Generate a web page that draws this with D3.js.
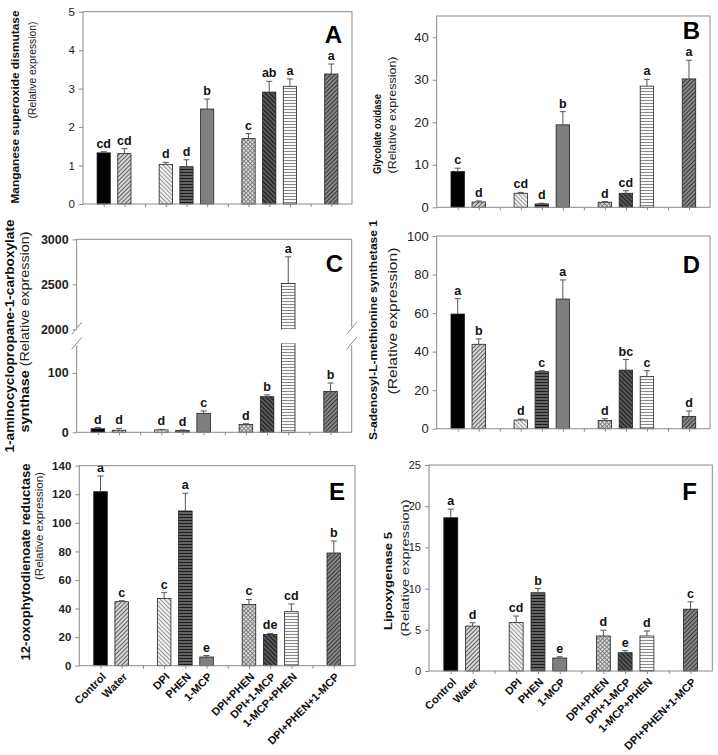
<!DOCTYPE html>
<html><head><meta charset="utf-8">
<script src="https://cdn.jsdelivr.net/npm/d3@7"></script>
<style>
body{margin:0;background:#fff}
svg{display:block}
text{font-family:"Liberation Sans",Arial,Helvetica,sans-serif}
</style>
</head><body>
<svg id="chart" width="718" height="755"></svg>
<script>
// ---------------- DATA ----------------
const categories = ["Control","Water","DPI","PHEN","1-MCP","DPI+PHEN","DPI+1-MCP","1-MCP+PHEN","DPI+PHEN+1-MCP"];
const groups = [["Control","Water"],["DPI","PHEN","1-MCP"],["DPI+PHEN","DPI+1-MCP","1-MCP+PHEN"],["DPI+PHEN+1-MCP"]];

// A: Manganese superoxide dismutase
const mnsodMean    = [1.33, 1.31, 1.03, 0.97, 2.47, 1.70, 2.91, 3.06, 3.38];
const mnsodSE      = [0.03, 0.13, 0.05, 0.18, 0.26, 0.13, 0.28, 0.19, 0.26];
const mnsodLetters = ["cd","cd","d","d","b","c","ab","a","a"];
const mnsodTicks   = [0,1,2,3,4,5];

// B: Glycolate oxidase
const goxMean    = [8.4, 1.25, 3.3, 0.8, 19.4, 1.2, 3.3, 28.5, 30.2];
const goxSE      = [0.8, 0.25, 0.2, 0.15, 3.1, 0.15, 0.6, 1.6, 4.4];
const goxLetters = ["c","d","cd","d","b","d","cd","a","a"];
const goxTicks   = [0,10,20,30,40];

// C: 1-aminocyclopropane-1-carboxylate synthase (broken axis)
const acsMean    = [6, 3.5, 4, 3, 32, 13, 60, 2510, 69];
const acsSE      = [2, 3, 1, 1, 4, 1.5, 3, 295, 14];
const acsLetters = ["d","d","d","d","c","d","b","a","b"];
const acsTicks   = [0,100,2000,2500,3000];

// D: S-adenosyl-L-methionine synthetase 1
const samsMean    = [59.5, 43.8, 4.5, 29.6, 67.3, 4.3, 30.4, 27.0, 6.4];
const samsSE      = [8.0, 2.8, 0.5, 0.5, 9.9, 0.9, 5.5, 3.1, 2.8];
const samsLetters = ["a","b","d","c","a","d","bc","c","d"];
const samsTicks   = [0,20,40,60,80,100];

// E: 12-oxophytodienoate reductase
const oprMean    = [121.8, 44.8, 47.1, 108.3, 6.1, 42.9, 21.9, 37.8, 78.9];
const oprSE      = [11.0, 0.7, 4.0, 12.4, 1.0, 3.5, 0.7, 5.4, 8.4];
const oprLetters = ["a","c","c","a","e","c","de","cd","b"];
const oprTicks   = [0,20,40,60,80,100,120,140];

// F: Lipoxygenase 5
const loxMean    = [18.6, 5.45, 5.87, 9.5, 1.58, 4.25, 2.22, 4.25, 7.5];
const loxSE      = [1.05, 0.4, 0.8, 0.5, 0.15, 0.7, 0.25, 0.6, 0.9];
const loxLetters = ["a","d","cd","b","e","d","e","d","c"];
const loxTicks   = [0,5,10,15,20,25];

// ---------------- SETUP ----------------
const svg = d3.select("#chart");
const defs = svg.append("defs");

function linePattern(id, bg, fg, period, sw, angle) {
  const p = defs.append("pattern").attr("id", id)
    .attr("patternUnits", "userSpaceOnUse")
    .attr("width", period).attr("height", period)
    .attr("patternTransform", `rotate(${angle})`);
  p.append("rect").attr("width", period).attr("height", period).attr("fill", bg);
  p.append("line").attr("x1", 0).attr("x2", period).attr("y1", period/2).attr("y2", period/2)
    .attr("stroke", fg).attr("stroke-width", sw);
}
function crossPattern(id, bg, fg, period, sw, angle) {
  const p = defs.append("pattern").attr("id", id)
    .attr("patternUnits", "userSpaceOnUse")
    .attr("width", period).attr("height", period)
    .attr("patternTransform", `rotate(${angle})`);
  p.append("rect").attr("width", period).attr("height", period).attr("fill", bg);
  p.append("line").attr("x1", 0).attr("x2", period).attr("y1", period/2).attr("y2", period/2)
    .attr("stroke", fg).attr("stroke-width", sw);
  p.append("line").attr("y1", 0).attr("y2", period).attr("x1", period/2).attr("x2", period/2)
    .attr("stroke", fg).attr("stroke-width", sw);
}
linePattern("pWater", "#d4d4d4", "#666", 3, 1, -45);
linePattern("pDPI", "#efefef", "#999", 3, 1, 45);
linePattern("pPHEN", "#808080", "#1c1c1c", 3, 1.6, 0);
crossPattern("pDP", "#dcdcdc", "#7a7a7a", 3, 0.9, 45);
linePattern("pDM", "#2c2c2c", "#808080", 3.2, 0.9, 45);
linePattern("pMP", "#ffffff", "#8a8a8a", 3, 1.1, 0);
linePattern("pAll", "#8e8e8e", "#3a3a3a", 3, 1.2, -45);

const fills = {
  "Control": "#000",
  "Water": "url(#pWater)",
  "DPI": "url(#pDPI)",
  "PHEN": "url(#pPHEN)",
  "1-MCP": "#7f7f7f",
  "DPI+PHEN": "url(#pDP)",
  "DPI+1-MCP": "url(#pDM)",
  "1-MCP+PHEN": "url(#pMP)",
  "DPI+PHEN+1-MCP": "url(#pAll)"
};

// slot domain with spacer slots between groups
const slotDomain = [];
groups.forEach((g, i) => { if (i > 0) slotDomain.push("__gap" + i); g.forEach(c => slotDomain.push(c)); });

const frameColor = "#8a8a8a";

const panels = [
  { letter:"A", mean:mnsodMean, se:mnsodSE, letters:mnsodLetters, ticks:mnsodTicks, domain:[0,5],
    box:{l:83,r:352,t:11.7,b:204}, tickSize:11.5, tickBold:false,
    t1:{text:"Manganese superoxide dismutase", x:15, y:107, size:11.5, len:193},
    t2:{text:"(Relative expression)", x:32, y:70, size:10.5, len:97},
    lp:{x:342,y:43}, xlabels:false },
  { letter:"B", mean:goxMean, se:goxSE, letters:goxLetters, ticks:goxTicks, domain:[0,45],
    box:{l:436.7,r:710,t:16,b:207.3}, tickSize:13, tickBold:false,
    t1:{text:"Glycolate oxidase", x:377, y:134, size:10.5, len:80},
    t2:{text:"(Relative expression)", x:392, y:115, size:11, len:117},
    lp:{x:700,y:39}, xlabels:false },
  { letter:"C", mean:acsMean, se:acsSE, letters:acsLetters, ticks:acsTicks, domain:[0,150,2000,3000],
    broken:true, box:{l:76.7,r:351.7,t:239.3,b:432.3}, tickSize:12.5, tickBold:true,
    t1:{text:"1-aminocyclopropane-1-carboxylate", x:10, y:336, size:12.5, len:233},
    t2:{bold:"synthase", text:" (Relative expression)", x:25, y:332, size:12.5, len:201},
    lp:{x:343,y:272}, xlabels:false },
  { letter:"D", mean:samsMean, se:samsSE, letters:samsLetters, ticks:samsTicks, domain:[0,100],
    box:{l:436.7,r:710,t:236,b:428.7}, tickSize:13, tickBold:false,
    t1:{text:"S-adenosyl-L-methionine synthetase 1", x:373, y:330, size:11.5, len:220},
    t2:{text:"(Relative expression)", x:393, y:321, size:12.5, len:147},
    lp:{x:700,y:273}, xlabels:false },
  { letter:"E", mean:oprMean, se:oprSE, letters:oprLetters, ticks:oprTicks, domain:[0,140],
    box:{l:79.3,r:355,t:465.7,b:665.7}, tickSize:11.5, tickBold:true,
    t1:{text:"12-oxophytodienoate reductase", x:26, y:562, size:12, len:197},
    t2:{text:"(Relative expression)", x:38.5, y:526, size:11, len:108},
    lp:{x:345,y:500}, xlabels:true },
  { letter:"F", mean:loxMean, se:loxSE, letters:loxLetters, ticks:loxTicks, domain:[0,25],
    box:{l:429,r:712.3,t:465,b:671}, tickSize:11, tickBold:false,
    t1:{text:"Lipoxygenase 5", x:388, y:581, size:11.5, len:98},
    t2:{text:"(Relative expression)", x:404.5, y:568, size:11.5, len:137},
    lp:{x:697,y:500}, xlabels:true }
];

panels.forEach(p => {
  const {l, r, t, b} = p.box;
  const g = svg.append("g");
  const x = d3.scalePoint().domain(slotDomain).range([l, r]).padding(1);
  const step = x.step();
  const bw = step * 0.64;
  let y;
  if (p.broken) {
    // lower segment 0-150, gap, upper segment 2000-3000
    y = d3.scaleLinear().domain(p.domain).range([b, b - 89, b - 103, t]);
  } else {
    y = d3.scaleLinear().domain(p.domain).range([b, t]);
  }
  const data = categories.map((c, i) => ({cat:c, mean:p.mean[i], se:p.se[i], lab:p.letters[i]}));

  // bars
  g.selectAll("rect.bar").data(data).join("rect").attr("class","bar")
    .attr("x", d => x(d.cat) - bw/2).attr("width", bw)
    .attr("y", d => y(d.mean)).attr("height", d => y(0) - y(d.mean))
    .attr("fill", d => fills[d.cat]).attr("stroke", "#222").attr("stroke-width", 0.8);

  // error bars (upper only)
  g.selectAll("line.err").data(data).join("line").attr("class","err")
    .attr("x1", d => x(d.cat)).attr("x2", d => x(d.cat))
    .attr("y1", d => y(d.mean)).attr("y2", d => y(d.mean + d.se))
    .attr("stroke", "#555").attr("stroke-width", 1);
  g.selectAll("line.cap").data(data).join("line").attr("class","cap")
    .attr("x1", d => x(d.cat) - 3).attr("x2", d => x(d.cat) + 3)
    .attr("y1", d => y(d.mean + d.se)).attr("y2", d => y(d.mean + d.se))
    .attr("stroke", "#555").attr("stroke-width", 1);

  // significance letters
  g.selectAll("text.sig").data(data).join("text").attr("class","sig")
    .attr("x", d => x(d.cat)).attr("y", d => y(d.mean + d.se) - 4)
    .attr("text-anchor", "middle").attr("font-weight", "bold").attr("font-size", 12.5)
    .attr("fill", "#111").text(d => d.lab);

  // frame
  if (p.broken) {
    const yTopGap = b - 103, yBotGap = b - 89;
    g.append("rect").attr("x", l + 1).attr("y", yTopGap).attr("width", r - l - 2).attr("height", yBotGap - yTopGap).attr("fill", "#fff");
    const fl = (x1,y1,x2,y2) => g.append("line").attr("x1",x1).attr("y1",y1).attr("x2",x2).attr("y2",y2)
      .attr("stroke", frameColor).attr("stroke-width", 1);
    fl(l, t, r, t); fl(l, b, r, b);
    [l, r].forEach(xx => {
      fl(xx, t, xx, yTopGap - 2);
      fl(xx, yBotGap + 2, xx, b);
      fl(xx - 5, yTopGap + 5, xx + 5, yTopGap - 7);
      fl(xx - 5, yBotGap + 6, xx + 5, yBotGap - 6);
    });
  } else {
    g.append("rect").attr("x", l).attr("y", t).attr("width", r - l).attr("height", b - t)
      .attr("fill", "none").attr("stroke", frameColor).attr("stroke-width", 1);
  }

  // y axis
  const ya = g.append("g").attr("transform", `translate(${l},0)`)
    .call(d3.axisLeft(y).tickValues(p.ticks).tickSize(4).tickPadding(4).tickFormat(d3.format("d")));
  ya.select(".domain").remove();
  ya.selectAll(".tick line").attr("stroke", frameColor);
  ya.selectAll(".tick text").attr("font-size", p.tickSize).attr("font-weight", p.tickBold ? "bold" : "normal")
    .attr("fill", "#222").attr("font-family", '"Liberation Sans",Arial,sans-serif');

  // x axis
  const xa = g.append("g").attr("transform", `translate(0,${b})`)
    .call(d3.axisBottom(x).tickSize(3).tickPadding(4)
      .tickFormat(d => (p.xlabels && !d.startsWith("__gap")) ? d : ""));
  xa.select(".domain").remove();
  xa.selectAll(".tick line").attr("stroke", frameColor);
  xa.selectAll(".tick text")
    .attr("x", 0).attr("y", 0).attr("dy", "0.35em")
    .attr("transform", "translate(3,9) rotate(-45)")
    .attr("text-anchor", "end").attr("font-size", 11).attr("font-weight", "bold")
    .attr("fill", "#111").attr("font-family", '"Liberation Sans",Arial,sans-serif');

  // y titles
  g.append("text").attr("transform", `translate(${p.t1.x},${p.t1.y}) rotate(-90)`)
    .attr("text-anchor", "middle").attr("dominant-baseline", "central")
    .attr("textLength", p.t1.len).attr("lengthAdjust", "spacingAndGlyphs")
    .attr("font-size", p.t1.size).attr("font-weight", "bold").attr("fill", "#111").text(p.t1.text);
  const t2 = g.append("text").attr("transform", `translate(${p.t2.x},${p.t2.y}) rotate(-90)`)
    .attr("text-anchor", "middle").attr("dominant-baseline", "central")
    .attr("textLength", p.t2.len).attr("lengthAdjust", "spacingAndGlyphs")
    .attr("font-size", p.t2.size).attr("fill", "#222");
  if (p.t2.bold) t2.append("tspan").attr("font-weight", "bold").attr("fill", "#111").text(p.t2.bold);
  t2.append("tspan").text(p.t2.text);

  // panel letter
  g.append("text").attr("x", p.lp.x).attr("y", p.lp.y).attr("text-anchor", "end")
    .attr("font-size", 24).attr("font-weight", "bold").attr("fill", "#000").text(p.letter);
});
</script>
</body></html>
